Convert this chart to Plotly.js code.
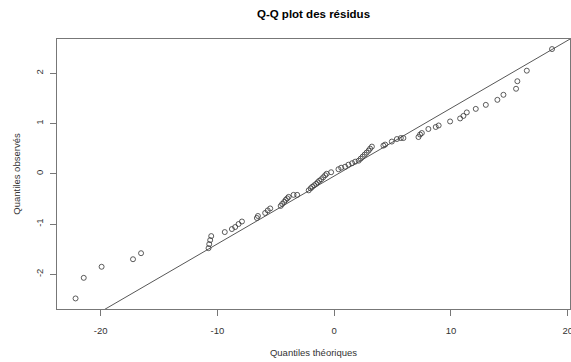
<!DOCTYPE html>
<html>
<head>
<meta charset="utf-8">
<script src="https://cdn.plot.ly/plotly-3.0.1.min.js"></script>
<style>html,body{margin:0;padding:0;background:#fff;}#chart{width:571px;height:362px;}</style>
</head>
<body>
<div id="chart"></div>
<script>
const theoretical = [-22.15,-21.45,-19.92,-17.23,-16.54,-10.76,-10.70,-10.62,-10.53,-9.37,-8.76,-8.48,-8.19,-7.90,-6.62,-6.53,-5.91,-5.69,-5.48,-4.58,-4.45,-4.28,-4.15,-4.02,-3.90,-3.48,-3.17,-2.18,-2.01,-1.88,-1.71,-1.54,-1.41,-1.28,-1.11,-0.94,-0.77,-0.64,-0.26,0.37,0.60,0.94,1.22,1.54,1.80,2.10,2.27,2.44,2.61,2.78,2.95,3.08,3.23,4.22,4.37,4.94,5.37,5.71,5.93,7.22,7.36,7.51,8.07,8.70,8.95,9.93,10.79,11.07,11.36,12.13,12.99,13.98,14.50,15.58,15.69,16.50,18.66];
const observed = [-2.48,-2.07,-1.85,-1.70,-1.58,-1.48,-1.40,-1.32,-1.24,-1.16,-1.10,-1.06,-1.00,-0.95,-0.88,-0.84,-0.78,-0.73,-0.69,-0.64,-0.60,-0.56,-0.52,-0.49,-0.46,-0.42,-0.42,-0.33,-0.29,-0.26,-0.23,-0.20,-0.17,-0.14,-0.11,-0.07,-0.03,0.00,0.03,0.09,0.12,0.14,0.18,0.21,0.24,0.26,0.30,0.34,0.38,0.42,0.46,0.50,0.54,0.56,0.58,0.64,0.69,0.71,0.71,0.73,0.78,0.81,0.89,0.93,0.96,1.04,1.10,1.15,1.22,1.29,1.37,1.47,1.57,1.69,1.84,2.05,2.48];
// Reference line (qqline)
const lineIntercept = -0.046;
const lineSlope = 0.1349;
const xTicks = [-20,-10,0,10,20];
const yTicks = [-2,-1,0,1,2];

const xRange = [-23.74, 20.2];
const yRange = [-2.69, 2.68];
const lineX = [-40, 40];
const lineY = lineX.map(x => lineIntercept + lineSlope * x);

const font = 'Liberation Sans, Arial, sans-serif';
const traces = [
  {x: theoretical, y: observed, type: 'scatter', mode: 'markers',
   marker: {symbol: 'circle-open', size: 5, color: '#333', line: {width: 0.8, color: '#333'}},
   hoverinfo: 'x+y'},
  {x: lineX, y: lineY, type: 'scatter', mode: 'lines',
   line: {color: '#444', width: 0.9}, hoverinfo: 'skip'}
];
const layout = {
  width: 571, height: 362,
  margin: {l: 57, r: 1, t: 39, b: 53},
  paper_bgcolor: '#fff', plot_bgcolor: '#fff',
  showlegend: false,
  font: {family: font, color: '#333', size: 9.5},
  title: {text: 'Q-Q plot des résidus', font: {family: font, size: 11.5, color: '#000', weight: 700},
          x: 0.5, xref: 'paper', y: 1 - 14/362, yanchor: 'middle'},
  xaxis: {range: xRange, tickvals: xTicks, ticktext: xTicks.map(String),
          showgrid: false, zeroline: false, showline: true, mirror: true, linecolor: '#777', linewidth: 1,
          ticks: 'outside', ticklen: 6, tickcolor: '#777', tickfont: {size: 9.5, color: '#333'},
          ticklabelstandoff: 7, ticklabeloverflow: 'allow',
          title: {text: 'Quantiles théoriques', font: {size: 9.5, color: '#333'}, standoff: 13},
          automargin: false},
  yaxis: {range: yRange, tickvals: yTicks, ticktext: yTicks.map(String), tickangle: -90,
          showgrid: false, zeroline: false, showline: true, mirror: true, linecolor: '#777', linewidth: 1,
          ticks: 'outside', ticklen: 6, tickcolor: '#777', tickfont: {size: 9.5, color: '#333'},
          ticklabelstandoff: 3, ticklabeloverflow: 'allow',
          title: {text: 'Quantiles observés', font: {size: 9.5, color: '#333'}, standoff: 11},
          automargin: false}
};
Plotly.newPlot('chart', traces, layout, {displayModeBar: false, staticPlot: true});
</script>
</body>
</html>
